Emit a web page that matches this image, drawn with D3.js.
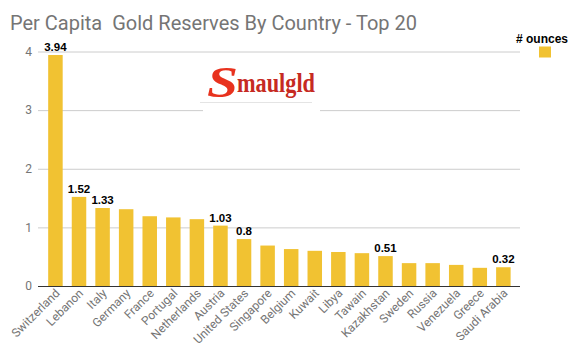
<!DOCTYPE html>
<html><head><meta charset="utf-8">
<script src="https://cdn.jsdelivr.net/npm/d3@7"></script>
<style>body{margin:0;background:#fff}svg{display:block}</style>
</head><body><svg id="c" width="581" height="357"></svg>
<script>
const countries = ["Switzerland","Lebanon","Italy","Germany","France","Portugal","Netherlands","Austria","United States","Singapore","Belgium","Kuwait","Libya","Tawain","Kazakhstan","Sweden","Russia","Venezuela","Greece","Saudi Arabia"];
const ounces = [3.94,1.52,1.33,1.31,1.19,1.17,1.14,1.03,0.8,0.69,0.63,0.60,0.58,0.56,0.51,0.39,0.39,0.36,0.31,0.32];
const labelled = [true,true,true,false,false,false,false,true,true,false,false,false,false,false,true,false,false,false,false,true];
const yTicks = [0,1,2,3,4];
const title = "Per Capita  Gold Reserves By Country - Top 20";
const seriesName = "# ounces";

const svg = d3.select("#c");
const x = d3.scaleBand().domain(countries).range([43.7,515.1]).paddingInner(0.385).paddingOuter(0.19);
const y = d3.scaleLinear().domain([0,4]).range([286,51.5]);

svg.append("text").attr("x",10).attr("y",30).attr("fill","#757575")
  .style("white-space","pre")
  .style("font-family","Roboto").style("font-size","20px").text(title);

// grid
svg.append("g").selectAll("line").data(yTicks.filter(d=>d>0)).join("line")
  .attr("x1",38).attr("x2",520).attr("y1",d=>y(d)+0.5).attr("y2",d=>y(d)+0.5)
  .attr("stroke","#cccccc").attr("stroke-width",1);

// y labels
svg.append("g").selectAll("text").data(yTicks).join("text")
  .attr("x",32).attr("y",d=>y(d)).attr("dy","0.35em").attr("text-anchor","end")
  .attr("fill","#757575").style("font-family","Roboto").style("font-size","12px").text(d=>d);

// logo
const logo = svg.append("g");
logo.append("rect").attr("x",203).attr("y",62).attr("width",117).attr("height",50).attr("fill","#fff");
logo.append("line").attr("x1",200).attr("x2",312).attr("y1",102.5).attr("y2",102.5).attr("stroke","#e4e4e4");
logo.append("text").attr("x",207).attr("y",97).attr("fill","#e8321e")
  .style("font-family","Liberation Serif").style("font-weight","bold").style("font-style","italic")
  .style("font-size","44px").attr("textLength",31).attr("lengthAdjust","spacingAndGlyphs").text("S");
logo.append("text").attr("x",237).attr("y",92).attr("fill","#c62a22")
  .style("font-family","Liberation Serif").style("font-weight","bold")
  .style("font-size","27px").attr("textLength",78).attr("lengthAdjust","spacingAndGlyphs").text("maulgld");

// bars
svg.append("g").selectAll("rect").data(countries).join("rect")
  .attr("x",d=>x(d)).attr("width",x.bandwidth())
  .attr("y",(d,i)=>y(ounces[i])).attr("height",(d,i)=>y(0)-y(ounces[i]))
  .attr("fill","#f1c232");

// baseline
svg.append("line").attr("x1",38).attr("x2",520).attr("y1",286.5).attr("y2",286.5).attr("stroke","#333").attr("stroke-width",1);

// value labels
svg.append("g").selectAll("text").data(countries.filter((d,i)=>labelled[i])).join("text")
  .attr("x",d=>x(d)+x.bandwidth()/2).attr("y",d=>y(ounces[countries.indexOf(d)])-4)
  .attr("text-anchor","middle").attr("fill","#000")
  .style("font-family","Liberation Sans").style("font-weight","bold").style("font-size","11.5px")
  .text(d=>ounces[countries.indexOf(d)]);

// x labels
svg.append("g").selectAll("text").data(countries).join("text")
  .attr("transform",d=>`translate(${x(d)+x.bandwidth()/2+5},${294}) rotate(-45)`)
  .attr("text-anchor","end").attr("fill","#757575")
  .style("font-family","Roboto").style("font-size","12px").text(d=>d);

// legend
svg.append("text").attr("x",516).attr("y",43).attr("fill","#000")
  .style("font-family","Liberation Sans").style("font-weight","bold").style("font-size","12px").text(seriesName);
svg.append("rect").attr("x",539).attr("y",46.5).attr("width",12).attr("height",11).attr("fill","#f1c232");
</script></body></html>
